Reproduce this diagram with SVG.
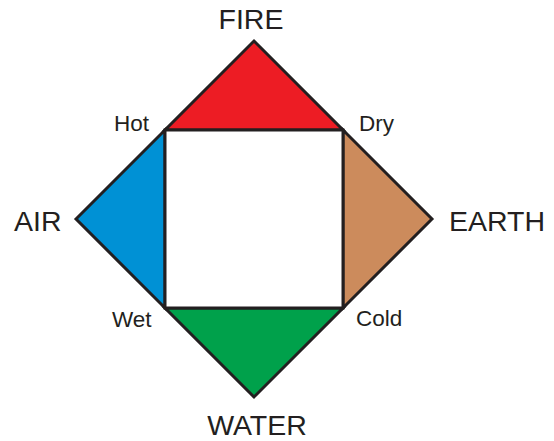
<svg xmlns="http://www.w3.org/2000/svg" width="554" height="441" viewBox="0 0 554 441">
<style>
.tri{stroke:#231f20;stroke-width:3;stroke-linejoin:miter}
.big{font-family:"Liberation Sans",Arial,sans-serif;font-size:28.5px;fill:#231f20}
.sm{font-family:"Liberation Sans",Arial,sans-serif;font-size:22.5px;fill:#231f20}
</style>
<rect width="554" height="441" fill="#ffffff"/>
<g id="fire">
<polygon class="tri" points="254,41 343,130 165,130" fill="#ed1c24"/>
<text class="big" x="251" y="29" text-anchor="middle">FIRE</text>
</g>
<g id="earth">
<polygon class="tri" points="432,219 343,308 343,130" fill="#cc8b5c"/>
<text class="big" x="449" y="231">EARTH</text>
</g>
<g id="water">
<polygon class="tri" points="254,397 165,308 343,308" fill="#00a14b"/>
<text class="big" x="257" y="435" text-anchor="middle">WATER</text>
</g>
<g id="air">
<polygon class="tri" points="76,219 165,130 165,308" fill="#0091d5"/>
<text class="big" x="14" y="231">AIR</text>
</g>
<g id="center">
<rect class="tri" x="165" y="130" width="178" height="178" fill="#ffffff"/>
</g>
<g id="connectors"></g>
<g id="labels">
<text class="sm" x="114" y="131">Hot</text>
<text class="sm" x="359" y="131">Dry</text>
<text class="sm" x="112" y="327">Wet</text>
<text class="sm" x="356" y="326">Cold</text>
</g>
</svg>
